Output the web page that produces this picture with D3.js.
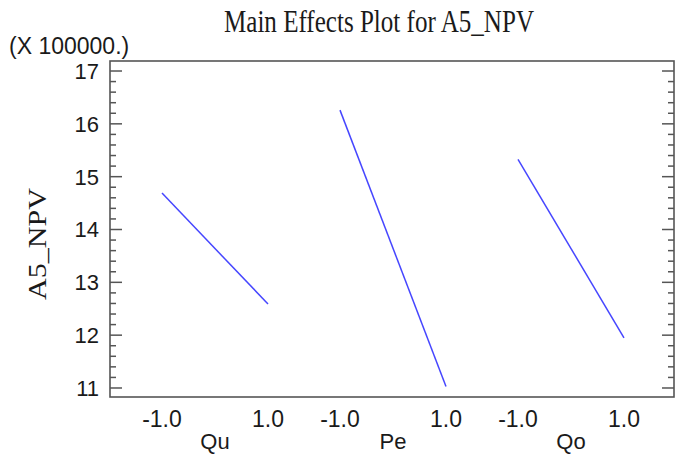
<!DOCTYPE html>
<html>
<head>
<meta charset="utf-8">
<script src="https://cdn.jsdelivr.net/npm/d3@7"></script>
<style>
  html, body { margin: 0; padding: 0; background: #fff; }
  svg { display: block; }
</style>
</head>
<body>
<script>
// ---- data ----
const factors = ["Qu", "Pe", "Qo"];
const levels = [-1, 1];
const levelLabels = ["-1.0", "1.0"];
const lowMeans = [14.68, 16.25, 15.32];   // x 100000, at level -1
const highMeans = [12.58, 11.02, 11.94];  // x 100000, at level +1
const yTicks = [11, 12, 13, 14, 15, 16, 17];
const titleText = "Main Effects Plot for A5_NPV";
const yLabel = "A5_NPV";
const multiplier = "(X 100000.)";

// ---- layout ----
const W = 675, H = 455;
const plot = { left: 110, right: 674, top: 61, bottom: 397 };

const svg = d3.select("body").append("svg").attr("width", W).attr("height", H);

const y = d3.scaleLinear().domain([10.82, 17.18]).range([plot.bottom, plot.top]);
const band = d3.scaleBand().domain(factors).range([126, 660]);
const inner = d3.scaleLinear().domain([-1, 1]).range([-53, 53]);
const xPos = (f, lv) => band(f) + band.bandwidth() / 2 + inner(lv);

const minorTicks = d3.range(110, 171, 2).map(v => v / 10).filter(v => !yTicks.includes(v));

const axisColor = "#555";
const textColor = "#1a1a1a";
const sans = "'Liberation Sans', Arial, sans-serif";
const serif = "'Liberation Serif', 'Times New Roman', serif";

// left axis major
const gL = svg.append("g").attr("transform", `translate(${plot.left},0)`)
  .call(d3.axisLeft(y).tickValues(yTicks).tickFormat(d3.format("d")).tickSizeInner(-12).tickSizeOuter(0).tickPadding(11));
gL.select(".domain").remove();
gL.selectAll("line").attr("stroke", axisColor).attr("stroke-width", 1.5);
gL.selectAll("text").attr("font-family", sans).attr("font-size", 22).attr("fill", textColor).attr("dy", "0.36em");

const gLm = svg.append("g").attr("transform", `translate(${plot.left},0)`)
  .call(d3.axisLeft(y).tickValues(minorTicks).tickFormat("").tickSizeInner(-6).tickSizeOuter(0));
gLm.select(".domain").remove();
gLm.selectAll("line").attr("stroke", axisColor).attr("stroke-width", 1.5);

// right axis major/minor
const gR = svg.append("g").attr("transform", `translate(${plot.right},0)`)
  .call(d3.axisRight(y).tickValues(yTicks).tickFormat("").tickSizeInner(-12).tickSizeOuter(0));
gR.select(".domain").remove();
gR.selectAll("line").attr("stroke", axisColor).attr("stroke-width", 1.5);
const gRm = svg.append("g").attr("transform", `translate(${plot.right},0)`)
  .call(d3.axisRight(y).tickValues(minorTicks).tickFormat("").tickSizeInner(-6).tickSizeOuter(0));
gRm.select(".domain").remove();
gRm.selectAll("line").attr("stroke", axisColor).attr("stroke-width", 1.5);

// frame
svg.append("rect")
  .attr("x", plot.left).attr("y", plot.top)
  .attr("width", plot.right - plot.left).attr("height", plot.bottom - plot.top)
  .attr("fill", "none").attr("stroke", axisColor).attr("stroke-width", 1.6);

// lines
const line = d3.line().x(d => d.x).y(d => y(d.v));
factors.forEach((f, i) => {
  const pts = [
    { x: xPos(f, levels[0]), v: lowMeans[i] },
    { x: xPos(f, levels[1]), v: highMeans[i] }
  ];
  svg.append("path").attr("d", line(pts))
    .attr("fill", "none").attr("stroke", "#4646ff").attr("stroke-width", 1.5);

  levels.forEach((lv, j) => {
    svg.append("text")
      .attr("x", xPos(f, lv)).attr("y", 427)
      .attr("text-anchor", "middle")
      .attr("font-family", sans).attr("font-size", 23).attr("fill", textColor)
      .text(levelLabels[j]);
  });
  svg.append("text")
    .attr("x", band(f) + band.bandwidth() / 2).attr("y", 449)
    .attr("text-anchor", "middle")
    .attr("font-family", sans).attr("font-size", 22).attr("fill", textColor)
    .text(f);
});

// title
svg.append("text")
  .attr("x", 379).attr("y", 32)
  .attr("text-anchor", "middle")
  .attr("font-family", serif).attr("font-size", 31).attr("fill", textColor)
  .attr("textLength", 310).attr("lengthAdjust", "spacingAndGlyphs")
  .text(titleText);

// multiplier
svg.append("text")
  .attr("x", 9).attr("y", 54)
  .attr("font-family", sans).attr("font-size", 23).attr("fill", textColor)
  .text(multiplier);

// y label
svg.append("text")
  .attr("transform", "translate(46,244) rotate(-90)")
  .attr("text-anchor", "middle")
  .attr("font-family", serif).attr("font-size", 25).attr("fill", textColor)
  .attr("textLength", 112).attr("lengthAdjust", "spacingAndGlyphs")
  .text(yLabel);
</script>
</body>
</html>
